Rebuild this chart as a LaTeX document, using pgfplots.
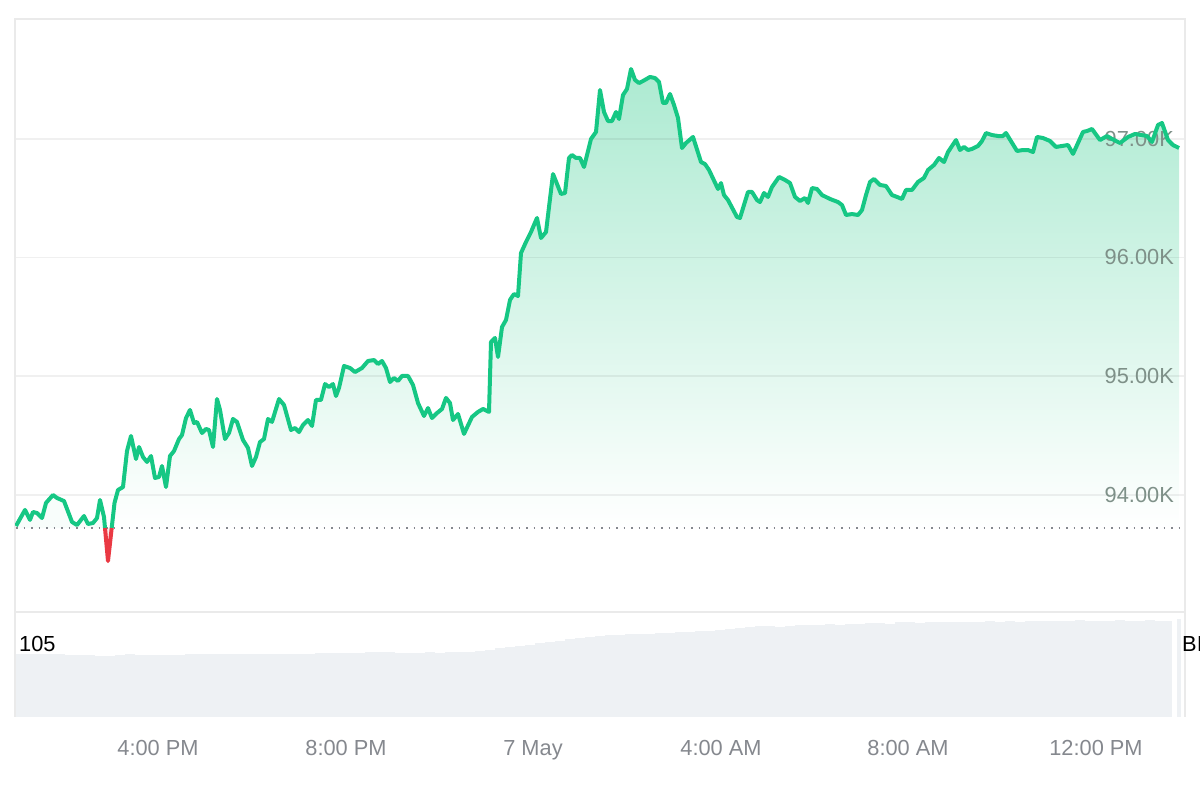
\documentclass[border=0pt]{standalone}
\usepackage{fontspec}
\setmainfont{Liberation Sans}
\usepackage{pgfplots}
\usepackage{pgfplotstable}
\pgfplotsset{compat=1.18}
\definecolor{cgreen}{HTML}{16C784}
\definecolor{cred}{HTML}{EA3943}
\definecolor{cframe}{HTML}{EAEAEA}
\definecolor{cvol}{HTML}{EEF1F4}
\definecolor{clabel}{HTML}{85888E}
\definecolor{cylabel}{HTML}{7E9088}
\definecolor{ctop}{RGB}{172,234,209}
\pgfplotsset{
  layers/under/.define layer set={axis background,axis ticks,axis lines,areafill,axis grid,axis tick labels,main,axis descriptions,axis foreground}{},
}
\pgfplotstableread{
x y
16 93.739
25 93.874
30 93.790
33 93.857
37 93.848
42 93.806
46 93.933
53 94.000
57 93.975
64 93.949
72 93.773
77 93.747
84 93.823
88 93.756
93 93.764
97 93.806
100 93.958
104 93.815
105 93.722
}\leftpart
\pgfplotstableread{
x y
105 93.722
108 93.444
111.7 93.722
}\redpart
\pgfplotstableread{
x y
111.7 93.722
114.5 93.933
118 94.042
123 94.067
127 94.370
131 94.497
136 94.303
139 94.404
143 94.320
147 94.278
151 94.328
155 94.143
159 94.152
162 94.244
166 94.067
170 94.328
174 94.370
179 94.471
182 94.505
186 94.648
190 94.716
194 94.606
197 94.615
202 94.522
206 94.556
209 94.547
213 94.404
217 94.808
220 94.716
225 94.471
229 94.522
233 94.640
237 94.615
243 94.463
248 94.396
252 94.244
256 94.320
260 94.446
264 94.471
268 94.640
272 94.615
279 94.808
284 94.758
291 94.547
295 94.564
299 94.530
303 94.589
308 94.631
312 94.581
316 94.800
321 94.800
325 94.934
329 94.909
333 94.934
336 94.833
339 94.901
344 95.086
350 95.069
355 95.035
362 95.069
368 95.128
374 95.136
378 95.103
382 95.128
386 95.069
390 94.951
394 94.985
398 94.960
402 95.002
408 95.002
413 94.926
418 94.774
424 94.665
428 94.732
432 94.648
437 94.690
442 94.724
446 94.817
450 94.774
453 94.631
458 94.682
464 94.514
472 94.657
478 94.699
483 94.724
489 94.699
491 95.288
495 95.322
498 95.162
502 95.414
506 95.473
510 95.642
514 95.692
518 95.675
521 96.037
526 96.130
531 96.214
537 96.332
541 96.163
546 96.214
553 96.702
561 96.534
565 96.542
569 96.837
572 96.862
576 96.837
580 96.837
584 96.761
591 96.997
596 97.056
600 97.409
604 97.224
608 97.148
612 97.148
616 97.224
619 97.165
623 97.367
627 97.418
631 97.586
635 97.494
639 97.468
643 97.485
650 97.519
655 97.510
659 97.477
663 97.300
666 97.300
670 97.376
674 97.283
678 97.174
682 96.921
686 96.963
693 97.014
701 96.803
705 96.786
709 96.736
718 96.576
721 96.626
724 96.525
728 96.483
737 96.340
740 96.332
748 96.551
752 96.551
757 96.483
760 96.466
764 96.542
768 96.509
772 96.593
779 96.677
785 96.652
790 96.626
795 96.509
800 96.475
805 96.500
808 96.458
812 96.584
817 96.576
822 96.525
830 96.492
838 96.466
842 96.441
846 96.357
852 96.365
858 96.357
862 96.399
866 96.525
870 96.635
874 96.660
880 96.610
886 96.601
892 96.525
897 96.509
902 96.492
906 96.568
912 96.568
918 96.635
924 96.669
928 96.736
934 96.778
939 96.837
944 96.803
948 96.887
952 96.938
956 96.988
960 96.904
964 96.930
968 96.904
972 96.913
978 96.938
982 96.980
986 97.047
992 97.030
998 97.022
1003 97.022
1006 97.047
1017 96.896
1023 96.904
1028 96.904
1033 96.887
1037 97.014
1043 97.005
1050 96.980
1056 96.930
1062 96.938
1068 96.946
1073 96.871
1083 97.056
1087 97.064
1092 97.081
1100 96.988
1107 97.022
1112 96.997
1120 96.963
1128 97.014
1135 97.039
1147 97.022
1152 96.972
1158 97.115
1162 97.131
1168 96.988
1173 96.946
1179 96.921
}\rightpart
\pgfplotstableread{
x v
20 91
30 91
40 90
50 91
60 90
70 89
80 89
90 89
100 88
110 88
120 89
130 90
140 89
150 89
160 89
170 89
180 89
190 90
200 90
210 90
220 90
230 90
240 90
250 90
260 91
270 91
280 90
290 91
300 91
310 91
320 92
330 92
340 92
350 92
360 92
370 93
380 93
390 93
400 92
410 92
420 92
430 93
440 92
450 93
460 94
470 94
480 95
490 97
500 99
510 100
520 102
530 104
540 106
550 108
560 110
570 112
580 114
590 115
600 116
610 118
620 118
630 119
640 120
650 120
660 121
670 121
680 122
690 122
700 123
710 124
720 125
730 127
740 128
750 130
760 131
770 131
780 130
790 131
800 132
810 132
820 133
830 134
840 133
850 134
860 134
870 135
880 135
890 134
900 136
910 136
920 135
930 136
940 136
950 137
960 137
970 136
980 137
990 138
1000 137
1010 138
1020 137
1030 138
1040 138
1050 138
1060 138
1070 138
1080 139
1090 138
1100 138
1110 138
1120 139
1130 138
1140 138
1150 139
1160 138
1167 138
}\volume
\begin{document}
\begin{tikzpicture}
\begin{axis}[
  set layers=under,
  at={(0pt,0pt)}, anchor=south west,
  scale only axis, width=1170pt, height=593pt,
  xmin=15, xmax=1185, ymin=93.015, ymax=98.007,
  axis line style={cframe, line width=1.8pt},
  xtick=\empty,
  ytick={94,95,96,97},
  yticklabels={94.00K,95.00K,96.00K,97.00K},
  ymajorgrids,
  grid style={black, opacity=0.06, line width=1.8pt},
  major tick length=0pt,
  ticklabel pos=right,
  tick label style={font=\fontsize{21.8}{26}\selectfont, text=cylabel},
  yticklabel style={anchor=east, inner sep=0pt, xshift=-11pt, yshift=0pt},
]
\addplot[on layer=areafill, draw=none, top color=ctop, bottom color=white]
  table[x=x,y=y]{\rightpart} -- (axis cs:1179,93.722) -- (axis cs:111.7,93.722) -- cycle;
\addplot[on layer=areafill, draw=none, fill=cgreen, fill opacity=0.03]
  table[x=x,y=y]{\leftpart} -- (axis cs:16,93.722) -- cycle;
\addplot[on layer=areafill, draw=none, top color=cred!10!white, bottom color=cred!35!white]
  table[x=x,y=y]{\redpart} -- cycle;
\addplot[clabel, line width=1.8pt, dash pattern=on 1.8pt off 5.7pt]
  coordinates {(16,93.722) (1185,93.722)};
\addplot[cgreen, line width=4pt, line join=round] table[x=x,y=y]{\leftpart};
\addplot[cgreen, line width=4pt, line join=round] table[x=x,y=y]{\rightpart};
\addplot[cred, line width=4pt, line join=round] table[x=x,y=y]{\redpart};
\end{axis}
\begin{axis}[
  at={(0pt,-105pt)}, anchor=south west,
  scale only axis, width=1170pt, height=105pt,
  xmin=15, xmax=1185, ymin=0, ymax=151,
  axis line style={draw=none},
  ytick=\empty,
  xtick={158,346,533,721,908,1096},
  xticklabels={4:00 PM,8:00 PM,7 May,4:00 AM,8:00 AM,12:00 PM},
  major tick length=0pt,
  tick label style={font=\fontsize{21.8}{26}\selectfont, text=clabel},
  xticklabel style={yshift=-20pt},
  clip=false,
]
\addplot[cvol, line width=9.5pt, ycomb, line cap=butt] table[x=x,y=v]{\volume};
\addplot[cvol, line width=4pt, ycomb, line cap=butt] coordinates {(1178.5,141)};
\draw[cframe, line width=1.8pt] (rel axis cs:0,0) -- (rel axis cs:0,1);
\draw[cframe, line width=1.8pt] (rel axis cs:1,0) -- (rel axis cs:1,1);
\node[anchor=west, inner sep=0pt, font=\fontsize{21.8}{26}\selectfont, text=black] at (axis cs:19,105) {105};
\node[overlay, anchor=west, inner sep=0pt, font=\fontsize{21.8}{26}\selectfont, text=black] at (axis cs:1182,105) {BI};
\end{axis}
\path (-15pt,-188pt) rectangle (1185pt,612pt);
\end{tikzpicture}
\end{document}
